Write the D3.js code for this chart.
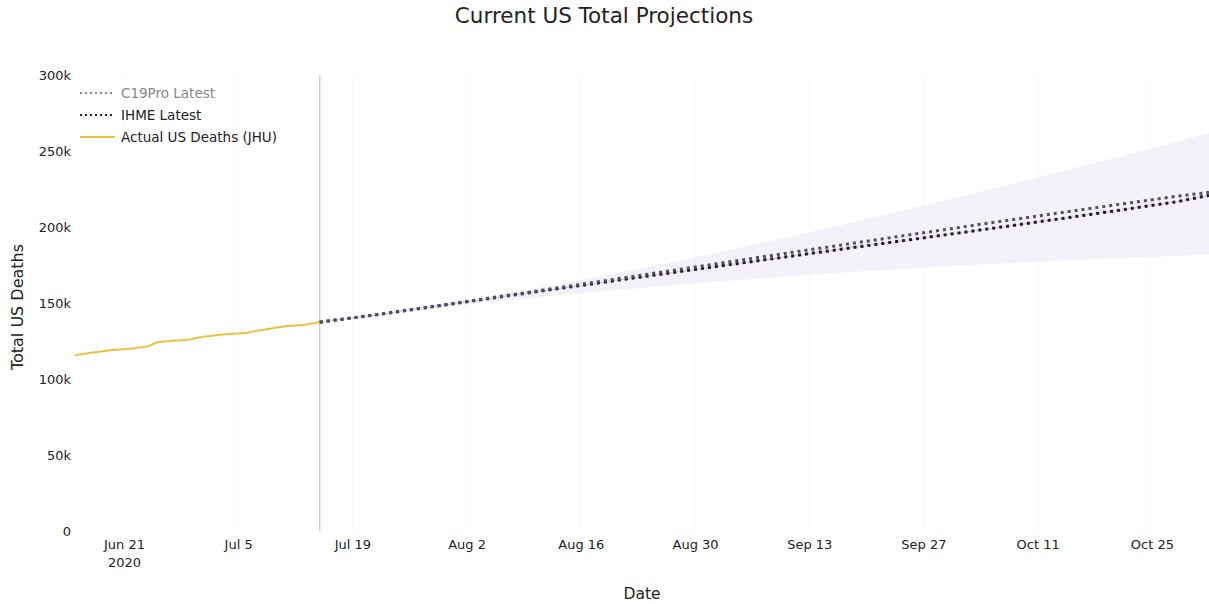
<!DOCTYPE html>
<html>
<head>
<meta charset="utf-8">
<script src="https://cdn.jsdelivr.net/npm/d3@7"></script>
<style>
  body { margin: 0; background: #fff; }
  text { font-family: "DejaVu Sans", sans-serif; }
</style>
</head>
<body>
<div id="chart"></div>
<script>
var parseDate = d3.timeParse("%Y-%m-%d");

// actual US deaths (JHU), daily
var actualDates = ["2020-06-15","2020-06-16","2020-06-17","2020-06-18","2020-06-19","2020-06-20","2020-06-21","2020-06-22","2020-06-23","2020-06-24","2020-06-25","2020-06-26","2020-06-27","2020-06-28","2020-06-29","2020-06-30","2020-07-01","2020-07-02","2020-07-03","2020-07-04","2020-07-05","2020-07-06","2020-07-07","2020-07-08","2020-07-09","2020-07-10","2020-07-11","2020-07-12","2020-07-13","2020-07-14","2020-07-15"];
var actualDeaths = [115700,116500,117300,118000,118700,119300,119600,120000,120800,121600,124000,124700,125200,125500,125900,127200,127900,128600,129300,129600,129900,130300,131500,132300,133200,134100,134800,135200,135600,136500,137400];

// projections, weekly
var projDates = ["2020-07-15","2020-07-22","2020-07-29","2020-08-05","2020-08-12","2020-08-19","2020-08-26","2020-09-02","2020-09-09","2020-09-16","2020-09-23","2020-09-30","2020-10-07","2020-10-14","2020-10-21","2020-10-28","2020-11-01"];
var c19pro = [137400,142400,147900,153400,159000,164700,170400,176100,181800,187400,193000,198600,204100,209500,214900,220200,222800];
var ihme   = [137400,142300,147700,153100,158500,163800,169100,174300,179500,184700,189900,195100,200300,205600,211000,216600,220800];
var bandUpper = [137400,142600,148400,154600,161200,168200,175600,183400,191600,200200,209000,218000,227200,236600,246200,256000,262000];
var bandLower = [137400,141800,146400,150600,154400,157900,161100,164100,166900,169500,171900,174100,176100,177900,179500,180900,181700];

var xTicks = ["2020-06-21","2020-07-05","2020-07-19","2020-08-02","2020-08-16","2020-08-30","2020-09-13","2020-09-27","2020-10-11","2020-10-25"];
var yTicks = [0,50000,100000,150000,200000,250000,300000];
var legendNames = ["C19Pro Latest","IHME Latest","Actual US Deaths (JHU)"];

var width = 1209, height = 604;
var margin = {left:75, right:0, top:75, bottom:73};

var svg = d3.select("#chart").append("svg").attr("width", width).attr("height", height);

var x = d3.scaleTime().domain([parseDate("2020-06-15"), parseDate("2020-11-01")]).range([margin.left, width-margin.right]);
var y = d3.scaleLinear().domain([0,300000]).range([height-margin.bottom, margin.top]);

// grid
svg.append("g").selectAll("line").data(xTicks).enter().append("line")
    .attr("x1", function(d){return x(parseDate(d));}).attr("x2", function(d){return x(parseDate(d));})
    .attr("y1", margin.top).attr("y2", height-margin.bottom)
    .attr("stroke","#f8f8f8").attr("stroke-width",1);

// uncertainty band
var area = d3.area().x(function(d){return x(parseDate(d));})
                    .y0(function(d,i){return y(bandLower[i]);})
                    .y1(function(d,i){return y(bandUpper[i]);});
svg.append("path").attr("d", area(projDates)).attr("fill","#e6dcef").attr("opacity",0.4);

// today marker
svg.append("line").attr("x1", x(parseDate("2020-07-15"))).attr("x2", x(parseDate("2020-07-15")))
    .attr("y1", margin.top).attr("y2", height-margin.bottom)
    .attr("stroke","#cfcfcf").attr("stroke-width",1.5);

var line = function(vals) {
    return d3.line().x(function(d){return x(parseDate(d));})
                    .y(function(d,i){return y(vals[i]);});
};

svg.append("path").attr("d", line(actualDeaths)(actualDates))
    .attr("fill","none").attr("stroke","#ecc13e").attr("stroke-width",2);

svg.append("path").attr("d", line(ihme)(projDates))
    .attr("fill","none").attr("stroke","#b0609a").attr("stroke-width",1).attr("opacity",0.35);
svg.append("path").attr("d", line(ihme)(projDates))
    .attr("fill","none").attr("stroke","#1f1c2a").attr("stroke-width",3).attr("stroke-dasharray","3,4");
svg.append("path").attr("d", line(c19pro)(projDates))
    .attr("fill","none").attr("stroke","#4a5260").attr("stroke-width",3).attr("stroke-dasharray","3,4");

// axes
var xAxis = d3.axisBottom(x).tickValues(xTicks.map(parseDate)).tickSize(0).tickPadding(9)
              .tickFormat(d3.timeFormat("%b %-d"));
var gx = svg.append("g").attr("transform","translate(0,"+(height-margin.bottom)+")").call(xAxis);
gx.select(".domain").remove();
gx.selectAll("text").attr("font-size",13).attr("fill","#222").attr("font-family","DejaVu Sans, sans-serif");
gx.selectAll(".tick").filter(function(d,i){return i===0;}).append("text")
    .attr("y", 36).attr("text-anchor","middle").attr("font-size",13).attr("fill","#222")
    .attr("font-family","DejaVu Sans, sans-serif").text("2020");

var yAxis = d3.axisLeft(y).tickValues(yTicks).tickSize(0).tickPadding(4).tickFormat(d3.format("~s"));
var gy = svg.append("g").attr("transform","translate("+margin.left+",0)").call(yAxis);
gy.select(".domain").remove();
gy.selectAll("text").attr("font-size",13).attr("fill","#222").attr("font-family","DejaVu Sans, sans-serif");

// titles
svg.append("text").attr("x",604).attr("y",23).attr("text-anchor","middle").attr("font-size",21.5).attr("fill","#222")
    .text("Current US Total Projections");
svg.append("text").attr("x",642).attr("y",599).attr("text-anchor","middle").attr("font-size",15.5).attr("fill","#222")
    .text("Date");
svg.append("text").attr("transform","translate(23,307) rotate(-90)").attr("text-anchor","middle").attr("font-size",16).attr("fill","#222")
    .text("Total US Deaths");

// legend
var legendStyles = [
    {stroke:"#7d8590", dash:"2,3", width:2, text:"#888"},
    {stroke:"#222", dash:"2,3", width:2, text:"#222"},
    {stroke:"#ecc13e", dash:null, width:2, text:"#222"}
];
var legend = svg.append("g").attr("transform","translate(80,93)");
legendNames.forEach(function(name, i) {
    var g = legend.append("g").attr("transform","translate(0,"+(i*22)+")");
    g.append("line").attr("x1",0).attr("x2",35).attr("y1",0).attr("y2",0)
        .attr("stroke",legendStyles[i].stroke).attr("stroke-width",legendStyles[i].width)
        .attr("stroke-dasharray",legendStyles[i].dash);
    g.append("text").attr("x",41).attr("y",5).attr("font-size",13.5).attr("fill",legendStyles[i].text).text(name);
});
</script>
</body>
</html>
